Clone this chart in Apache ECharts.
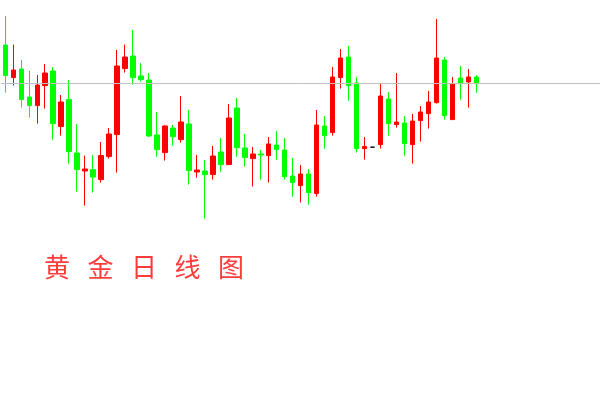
<!DOCTYPE html>
<html><head><meta charset="utf-8">
<script src="https://cdn.jsdelivr.net/npm/echarts@6/dist/echarts.min.js"></script>
<style>html,body{margin:0;padding:0;background:#fff}#c{width:600px;height:400px}</style>
</head><body><div id="c"></div>
<script>
const opens = [1377.5,1361.2,1365.5,1351.5,1347.2,1357.2,1364.5,1336.7,1350.2,1323.5,
1314.5,1315.2,1310.2,1321.7,1332.7,1365.7,1372,1362,1360,1332.5,
1323.7,1336,1330.2,1338,1314,1314.5,1312.7,1324,1317.7,1346,
1326,1320.7,1323,1322.2,1327.5,1325,1312,1307.2,1313,1303.2,
1337,1333.7,1361.2,1371.5,1358.5,1325.7,1326.4,1327.7,1350.5,1337.7,
1338.5,1327.7,1339.7,1343.2,1348.7,1370,1340.2,1361,1359,1361.5];
const closes = [1362.2,1365,1350.2,1347.2,1357.5,1363.5,1338.2,1349,1324.2,1315.2,
1315.5,1311.5,1322.2,1333,1367,1371.5,1361.2,1360.2,1332,1325.2,
1337,1331.7,1339,1314.7,1315,1312.7,1322,1317.7,1341,1326.2,
1321.2,1323,1322.5,1328,1325.2,1311.7,1308.7,1313,1303.7,1337.5,
1332.2,1361.5,1371,1357.2,1325.7,1326.7,1326.4,1352,1338.2,1339,
1328.2,1339.5,1344,1349,1371,1342.2,1358,1358.5,1361.5,1358.2];
const lows = [1353.7,1357.2,1346.2,1341.2,1338.2,1345.7,1330.2,1332.2,1318.2,1304.2,
1297.2,1303.7,1308.7,1320.7,1313.7,1363.7,1357.7,1359.2,1331.5,1321.7,
1319.7,1327.2,1328.7,1307.7,1311.2,1290.7,1310.2,1314.2,1317.7,1321.7,
1316.7,1306.7,1310.2,1308.7,1320.2,1310.2,1301.7,1298.7,1297.7,1301.7,
1325.7,1332.2,1355.7,1349.7,1323.7,1320.2,1326.4,1325.7,1332.2,1336.2,
1322.2,1318.2,1329.2,1335.7,1348.2,1340.2,1340.2,1350.2,1346.2,1353.7];
const highs = [1392,1377.7,1370,1364.5,1362.5,1368,1366.5,1352.5,1360,1338,
1322.2,1322.5,1329,1336,1375,1377.7,1385,1368.5,1363.5,1344,
1337.4,1337.5,1352,1345,1322.5,1320,1327,1331,1348,1351,
1333,1326.5,1325,1331.5,1334.5,1331,1321,1317.5,1315.5,1345,
1342,1366.5,1375.5,1377,1361.5,1331.5,1326.4,1358,1354,1363.5,
1342,1343,1347,1354.5,1390.5,1371.5,1361.5,1367,1365.5,1362.5];
const categories = Array.from({length: opens.length}, (_, i) => 'D' + (i + 1));
const totalSlots = 75;
const refLevel = 1358.5;
const titleText = '黄   金   日   线   图';

const xData = categories.concat(Array(totalSlots - categories.length).fill(''));
const kData = opens.map((o, i) => {
  const v = [o, closes[i], lows[i], highs[i]];
  if (o === closes[i] && o === lows[i] && o === highs[i]) {
    return {value: v, itemStyle: {color: '#000', color0: '#000', borderColor: '#000', borderColor0: '#000'}};
  }
  return v;
});

const chart = echarts.init(document.getElementById('c'));
chart.setOption({
  animation: false,
  backgroundColor: '#fff',
  title: {
    text: titleText,
    left: 44, top: 254, padding: 0,
    textStyle: {color: '#ff3c3c', fontSize: 26, fontWeight: 'normal', fontFamily: 'Noto Sans CJK SC'}
  },
  grid: {left: 1.33, right: -1.33, top: 0, bottom: 0},
  xAxis: {type: 'category', data: xData, show: false, boundaryGap: true},
  yAxis: {type: 'value', min: 1200, max: 1400, show: false, scale: true},
  series: [{
    type: 'candlestick',
    data: kData,
    barWidth: 5,
    itemStyle: {color: '#ff0000', color0: '#00ff00', borderColor: '#ff0000', borderColor0: '#00ff00', borderWidth: 1},
    markLine: {
      silent: true, symbol: ['none', 'none'],
      label: {show: false},
      lineStyle: {color: '#c0c0c0', width: 1, type: 'solid'},
      data: [{yAxis: refLevel}]
    }
  }]
});
</script></body></html>
